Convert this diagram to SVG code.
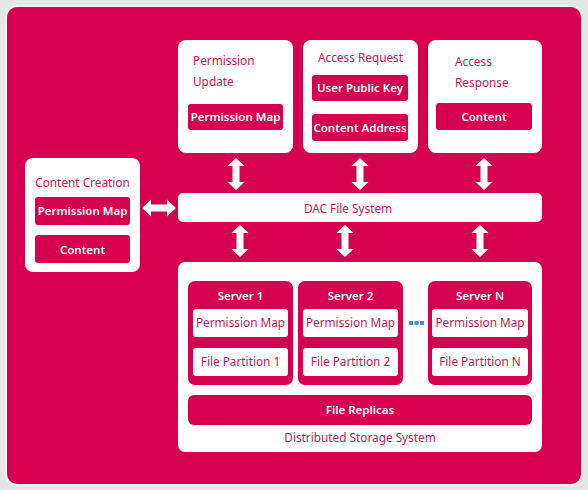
<svg xmlns="http://www.w3.org/2000/svg" width="588" height="490" viewBox="0 0 588 490">
<style>
.bg{fill:#D5004F}
.w{fill:#ffffff}
.p{fill:#D5004F}
.t{font-family:"Noto Sans","Open Sans",sans-serif;font-size:11.8px}
.tp{fill:#C2185B}
.tw{fill:#ffffff;font-weight:600;font-size:11.5px}
.c{text-anchor:middle}
.arr{fill:#ffffff}
</style>
<rect x="0" y="0" width="588" height="490" fill="#e4e6e4"/>
<rect x="5" y="5" width="578" height="481" rx="11" fill="#f2f2f2"/>
<rect x="7" y="7" width="574" height="477" rx="10" class="bg"/>

<g id="permission-update">
<rect x="178" y="40" width="115" height="113" rx="8" class="w"/>
<text x="193" y="65" class="t tp">Permission</text>
<text x="193" y="86" class="t tp">Update</text>
<rect x="188" y="104" width="95" height="26" rx="3" class="p"/>
<text x="235.5" y="121" class="t tw c">Permission Map</text>
</g>

<g id="access-request">
<rect x="303" y="40" width="115" height="113" rx="8" class="w"/>
<text x="360.5" y="62" class="t tp c">Access Request</text>
<rect x="312" y="75" width="96" height="26" rx="3" class="p"/>
<text x="360" y="92" class="t tw c">User Public Key</text>
<rect x="312" y="114" width="96" height="27" rx="3" class="p"/>
<text x="360" y="132" class="t tw c">Content Address</text>
</g>

<g id="access-response">
<rect x="428" y="40" width="114" height="113" rx="8" class="w"/>
<text x="455" y="66" class="t tp">Access</text>
<text x="455" y="87" class="t tp">Response</text>
<rect x="436" y="103" width="96" height="27" rx="3" class="p"/>
<text x="484" y="121" class="t tw c">Content</text>
</g>

<g id="content-creation">
<rect x="25" y="158" width="115" height="114" rx="8" class="w"/>
<text x="82.5" y="187" class="t tp c">Content Creation</text>
<rect x="35" y="197" width="95" height="28" rx="3" class="p"/>
<text x="82.5" y="215" class="t tw c">Permission Map</text>
<rect x="35" y="235" width="95" height="28" rx="3" class="p"/>
<text x="82.5" y="254" class="t tw c">Content</text>
</g>

<g id="dac-file-system">
<rect x="178" y="193" width="364" height="29" rx="5" class="w"/>
<text x="348" y="213" class="t tp c">DAC File System</text>
</g>

<g id="distributed-storage-system">
<rect x="178" y="262" width="364" height="190" rx="7" class="w"/>
<text x="360" y="442" class="t tp c">Distributed Storage System</text>
</g>

<g id="server-1">
<rect x="188" y="281" width="105" height="104" rx="7" class="p"/>
<text x="240.5" y="300" class="t tw c">Server 1</text>
<rect x="193" y="309" width="95" height="28" rx="3" class="w"/>
<text x="240.5" y="327" class="t tp c">Permission Map</text>
<rect x="193" y="348" width="95" height="28" rx="3" class="w"/>
<text x="240.5" y="366" class="t tp c">File Partition 1</text>
</g>

<g id="server-2">
<rect x="298" y="281" width="105" height="104" rx="7" class="p"/>
<text x="350.5" y="300" class="t tw c">Server 2</text>
<rect x="303" y="309" width="95" height="28" rx="3" class="w"/>
<text x="350.5" y="327" class="t tp c">Permission Map</text>
<rect x="303" y="348" width="95" height="28" rx="3" class="w"/>
<text x="350.5" y="366" class="t tp c">File Partition 2</text>
</g>

<g id="ellipsis">
<rect x="409" y="321" width="4" height="4" fill="#3b8fe0"/>
<rect x="414.5" y="321" width="4" height="4" fill="#3b8fe0"/>
<rect x="420" y="321" width="4" height="4" fill="#3b8fe0"/>
</g>

<g id="server-n">
<rect x="428" y="281" width="104" height="104" rx="7" class="p"/>
<text x="480" y="300" class="t tw c">Server N</text>
<rect x="432" y="309" width="96" height="28" rx="3" class="w"/>
<text x="480" y="327" class="t tp c">Permission Map</text>
<rect x="432" y="348" width="96" height="28" rx="3" class="w"/>
<text x="480" y="366" class="t tp c">File Partition N</text>
</g>

<g id="file-replicas">
<rect x="188" y="395" width="344" height="30" rx="6" class="p"/>
<text x="360" y="414" class="t tw c">File Replicas</text>
</g>

<defs>
<polygon id="va" points="0,-16 8.5,-8 3.5,-8 3.5,8 8.5,8 0,16 -8.5,8 -3.5,8 -3.5,-8 -8.5,-8"/>
<polygon id="ha" points="-17,0 -8,-8.5 -8,-3.5 8,-3.5 8,-8.5 17,0 8,8.5 8,3.5 -8,3.5 -8,8.5"/>
</defs>
<g id="connectors" class="arr">
<use href="#va" x="236" y="174"/>
<use href="#va" x="360" y="174"/>
<use href="#va" x="484" y="174"/>
<use href="#va" x="240" y="241"/>
<use href="#va" x="345" y="241"/>
<use href="#va" x="480" y="241"/>
<use href="#ha" x="159" y="208"/>
</g>
</svg>
